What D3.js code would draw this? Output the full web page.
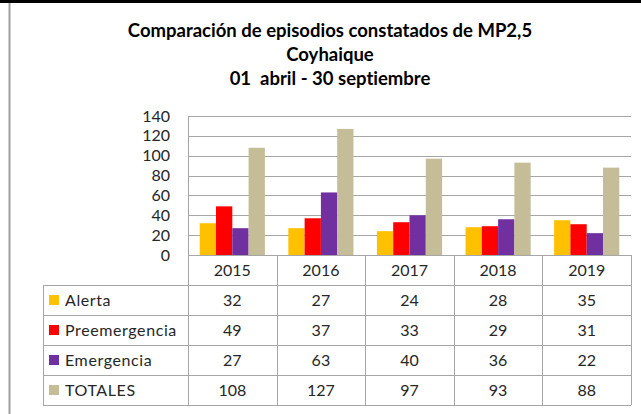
<!DOCTYPE html>
<html>
<head>
<meta charset="utf-8">
<script src="https://cdn.jsdelivr.net/npm/d3@7"></script>
<style>
  body { margin: 0; background: #fff; }
  svg { display: block; font-family: Lato, "Open Sans", sans-serif; font-variant-ligatures: none; }
</style>
</head>
<body>
<svg id="chart" width="641" height="414"></svg>
<script>
var years = ['2015', '2016', '2017', '2018', '2019'];
var seriesNames = ['Alerta', 'Preemergencia', 'Emergencia', 'TOTALES'];
var alerta = [32, 27, 24, 28, 35];
var preemergencia = [49, 37, 33, 29, 31];
var emergencia = [27, 63, 40, 36, 22];
var totales = [108, 127, 97, 93, 88];
var yTicks = [0, 20, 40, 60, 80, 100, 120, 140];
var titleLines = ['Comparación de episodios constatados de MP2,5', 'Coyhaique', '01  abril - 30 septiembre'];

var colors = ['#FFC000', '#FF0000', '#7030A0', '#C4BD97'];
var seriesValues = [alerta, preemergencia, emergencia, totales];

var svg = d3.select('#chart');
var textColor = '#262626';
var lineColor = '#a6a6a6';

// outer frame pieces
svg.append('rect').attr('x', 0).attr('y', 0).attr('width', 641).attr('height', 3).attr('fill', '#000');
svg.append('line')
  .attr('x1', 9.5).attr('x2', 9.5).attr('y1', 3).attr('y2', 414)
  .attr('stroke', '#a0a0a0').attr('stroke-width', 2);

// title (white-space kept for the double space)
svg.append('g')
  .selectAll('text')
  .data(titleLines)
  .enter()
  .append('text')
  .attr('x', 330)
  .attr('y', (d, i) => 37 + i * 24)
  .attr('text-anchor', 'middle')
  .attr('font-weight', 'bold')
  .attr('font-size', 18.5)
  .attr('fill', '#000')
  .style('white-space', 'pre')
  .text(d => d);

var plotLeft = 188, plotRight = 631, plotTop = 116, plotBottom = 255;

var y = d3.scaleLinear().domain([0, 140]).range([plotBottom, plotTop]);
var x0 = d3.scaleBand().domain(years).range([plotLeft, plotRight]).padding(0);
var x1 = d3.scaleBand().domain(seriesNames).range([0, x0.bandwidth()]).paddingInner(0).paddingOuter(0.72);

// gridlines
svg.append('g')
  .selectAll('line')
  .data(yTicks.filter(d => d > 0))
  .enter()
  .append('line')
  .attr('x1', plotLeft).attr('x2', plotRight)
  .attr('y1', d => Math.round(y(d)) + 0.5).attr('y2', d => Math.round(y(d)) + 0.5)
  .attr('stroke', lineColor);

// y axis labels
var yAxis = svg.append('g')
  .attr('transform', `translate(${plotLeft}, 0)`)
  .call(d3.axisLeft(y).tickValues(yTicks).tickSize(0).tickPadding(18));
yAxis.select('.domain').remove();
yAxis.selectAll('text')
  .attr('font-family', 'Lato, sans-serif')
  .attr('font-size', 16)
  .attr('fill', textColor);

// bars
var groups = svg.append('g')
  .selectAll('g')
  .data(years)
  .enter()
  .append('g')
  .attr('transform', d => `translate(${x0(d)}, 0)`);

groups.selectAll('rect')
  .data((yr, i) => seriesNames.map((s, k) => ({ s: s, k: k, v: seriesValues[k][i] })))
  .enter()
  .append('rect')
  .attr('x', d => x1(d.s))
  .attr('width', x1.bandwidth())
  .attr('y', d => y(d.v))
  .attr('height', d => y(0) - y(d.v))
  .attr('fill', d => colors[d.k]);

// axis line at zero
svg.append('line')
  .attr('x1', plotLeft).attr('x2', plotRight)
  .attr('y1', plotBottom + 0.5).attr('y2', plotBottom + 0.5)
  .attr('stroke', lineColor);
svg.append('line')
  .attr('x1', plotLeft + 0.5).attr('x2', plotLeft + 0.5)
  .attr('y1', plotTop).attr('y2', plotBottom)
  .attr('stroke', lineColor);

// data table
var tableLeft = 43, tableBottom = 405;
var rows = d3.scaleBand().domain(['year'].concat(seriesNames)).range([plotBottom, tableBottom]);

var table = svg.append('g');

// horizontal lines
table.selectAll('line.h')
  .data(seriesNames.concat(['end']))
  .enter()
  .append('line')
  .attr('class', 'h')
  .attr('x1', tableLeft).attr('x2', plotRight)
  .attr('y1', d => d === 'end' ? tableBottom + 0.5 : Math.round(rows(d)) + 0.5)
  .attr('y2', d => d === 'end' ? tableBottom + 0.5 : Math.round(rows(d)) + 0.5)
  .attr('stroke', lineColor);

// vertical lines
var vxs = years.map(d => x0(d)).concat([plotRight]);
table.selectAll('line.v')
  .data(vxs)
  .enter()
  .append('line')
  .attr('class', 'v')
  .attr('x1', d => Math.round(d) + 0.5).attr('x2', d => Math.round(d) + 0.5)
  .attr('y1', plotBottom).attr('y2', tableBottom)
  .attr('stroke', lineColor);
table.append('line')
  .attr('x1', tableLeft + 0.5).attr('x2', tableLeft + 0.5)
  .attr('y1', rows(seriesNames[0])).attr('y2', tableBottom)
  .attr('stroke', lineColor);

// year headers
table.selectAll('text.yr')
  .data(years)
  .enter()
  .append('text')
  .attr('class', 'yr')
  .attr('x', d => x0(d) + x0.bandwidth() / 2)
  .attr('y', rows('year') + rows.bandwidth() / 2)
  .attr('dy', '0.36em')
  .attr('text-anchor', 'middle')
  .attr('font-size', 16)
  .attr('fill', textColor)
  .text(d => d);

// legend keys and labels
var legendRows = table.selectAll('g.lg')
  .data(seriesNames)
  .enter()
  .append('g')
  .attr('class', 'lg')
  .attr('transform', d => `translate(0, ${rows(d) + rows.bandwidth() / 2})`);

legendRows.append('rect')
  .attr('x', 49).attr('y', -5)
  .attr('width', 10).attr('height', 10)
  .attr('fill', (d, i) => colors[i]);

legendRows.append('text')
  .attr('x', 65)
  .attr('dy', '0.36em')
  .attr('font-size', 16)
  .attr('letter-spacing', 0.6)
  .attr('fill', textColor)
  .text(d => d);

// values
legendRows.selectAll('text.val')
  .data((d, i) => seriesValues[i].map((v, j) => ({ v: v, yr: years[j] })))
  .enter()
  .append('text')
  .attr('class', 'val')
  .attr('x', d => x0(d.yr) + x0.bandwidth() / 2)
  .attr('dy', '0.36em')
  .attr('text-anchor', 'middle')
  .attr('font-size', 16)
  .attr('fill', textColor)
  .text(d => d.v);
</script>
</body>
</html>
